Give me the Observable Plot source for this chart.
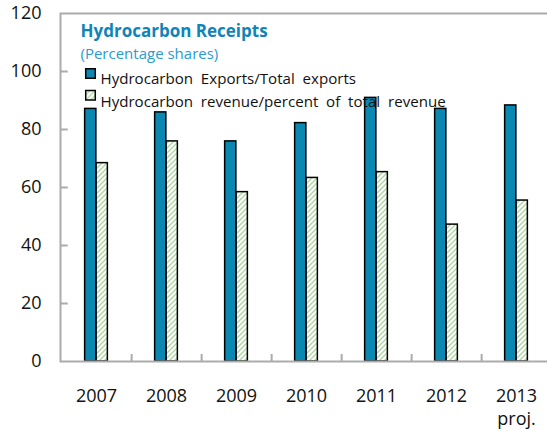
<!DOCTYPE html>
<html>
<head>
<meta charset="utf-8">
<script src="https://cdn.jsdelivr.net/npm/d3@7"></script>
<script src="https://cdn.jsdelivr.net/npm/@observablehq/plot@0.6"></script>
<style>
  html, body { margin: 0; padding: 0; background: #fff; overflow: hidden; width: 547px; height: 431px; }
  #chart { width: 547px; height: 431px; overflow: hidden; }
  #chart svg { max-width: none !important; height: 431px !important; display: block; }
  #chart svg text { white-space: pre; }
</style>
</head>
<body>
<div id="chart"></div>
<script>
const years = ["2007", "2008", "2009", "2010", "2011", "2012", "2013"];
const xLabels = ["2007", "2008", "2009", "2010", "2011", "2012", "2013\nproj."];
const exportsShare = [87.1, 85.9, 75.9, 82.2, 90.9, 87.1, 88.3];
const revenueShare = [68.4, 75.9, 58.4, 63.3, 65.3, 47.2, 55.5];
const yTicks = [0, 20, 40, 60, 80, 100, 120];
const seriesNames = ["Hydrocarbon  Exports/Total  exports", "Hydrocarbon  revenue/percent  of  total  revenue"];
const title = "Hydrocarbon Receipts";
const subtitle = "(Percentage shares)";

const W = 552, H = 431, ML = 60, MR = 0, MT = 13, MB = 70;
const step = (W - ML - MR) / years.length;
const barW = 11.5;
const tickLen = 7;
const blue = "#0a88b2";
const gridGray = "#ababab";

const rows = years.map((y, i) => ({year: y, exp: exportsShare[i], rev: revenueShare[i]}));

function hatchDefs() {
  const defs = d3.create("svg:defs");
  const p = defs.append("pattern")
    .attr("id", "hatch").attr("patternUnits", "userSpaceOnUse")
    .attr("width", 5).attr("height", 5);
  p.append("rect").attr("width", 5).attr("height", 5).attr("fill", "#fff");
  p.append("path").attr("d", "M0,5L5,0M-1,1L1,-1M4,6L6,4")
    .attr("stroke", "#a8d69b").attr("stroke-width", 1.3);
  return defs.node();
}

const plot = Plot.plot({
  width: W, height: H,
  marginLeft: ML, marginRight: MR, marginTop: MT, marginBottom: MB,
  style: {fontFamily: "'Open Sans', sans-serif", fontSize: "18px", color: "#111", background: "#fff", maxWidth: "none"},
  x: {type: "band", domain: years, paddingInner: 0, paddingOuter: 0},
  y: {domain: [0, 120]},
  marks: [
    hatchDefs,
    Plot.barY(rows, {x: "year", y: "exp", fill: blue, stroke: "#000", strokeWidth: 1.5,
      insetLeft: step / 2 - barW, insetRight: step / 2}),
    Plot.barY(rows, {x: "year", y: "rev", fill: "url(#hatch)", stroke: "#000", strokeWidth: 1.5,
      insetLeft: step / 2, insetRight: step / 2 - barW}),
    Plot.frame({stroke: gridGray, strokeWidth: 2}),
    // inward y ticks
    Plot.ruleY(yTicks.slice(1, -1), {y: d => d, x1: () => years[0], x2: () => years[0],
      insetLeft: -1, insetRight: step - tickLen, stroke: gridGray, strokeWidth: 2}),
    // inward category-boundary ticks on the x axis
    Plot.ruleX(years, {x: d => d, y1: () => 0, y2: () => 0, insetBottom: tickLen, dx: step / 2,
      stroke: gridGray, strokeWidth: 2}),
    Plot.axisY({ticks: yTicks, tickSize: 0, tickPadding: 19, fontSize: 18, label: null}),
    Plot.axisX({tickSize: 0, tickPadding: 25, fontSize: 18, lineHeight: 1.25, label: null,
      tickFormat: d => xLabels[years.indexOf(d)]}),
    // title & legend
    Plot.text([title], {frameAnchor: "top-left", text: d => d, dx: 20, dy: 11.5, textAnchor: "start",
      fontWeight: "bold", fontSize: 17, fill: "#0f84b8"}),
    Plot.text([subtitle], {frameAnchor: "top-left", text: d => d, dx: 20, dy: 34.5, textAnchor: "start",
      fontSize: 15, fill: "#2a9bd0"}),
    Plot.dot([0], {frameAnchor: "top-left", dx: 30, dy: 60, symbol: "square", r: 5.4,
      fill: blue, stroke: "#000", strokeWidth: 1.5}),
    Plot.dot([0], {frameAnchor: "top-left", dx: 30, dy: 81.7, symbol: "square", r: 5.4,
      fill: "url(#hatch)", stroke: "#000", strokeWidth: 1.5}),
    Plot.text([seriesNames[0]], {frameAnchor: "top-left", text: d => d, dx: 40, dy: 60, textAnchor: "start",
      fontSize: 15.1, fill: "#111"}),
    Plot.text([seriesNames[1]], {frameAnchor: "top-left", text: d => d, dx: 40, dy: 82.5, textAnchor: "start",
      fontSize: 15.1, fill: "#111"})
  ]
});

document.getElementById("chart").appendChild(plot);
</script>
</body>
</html>
